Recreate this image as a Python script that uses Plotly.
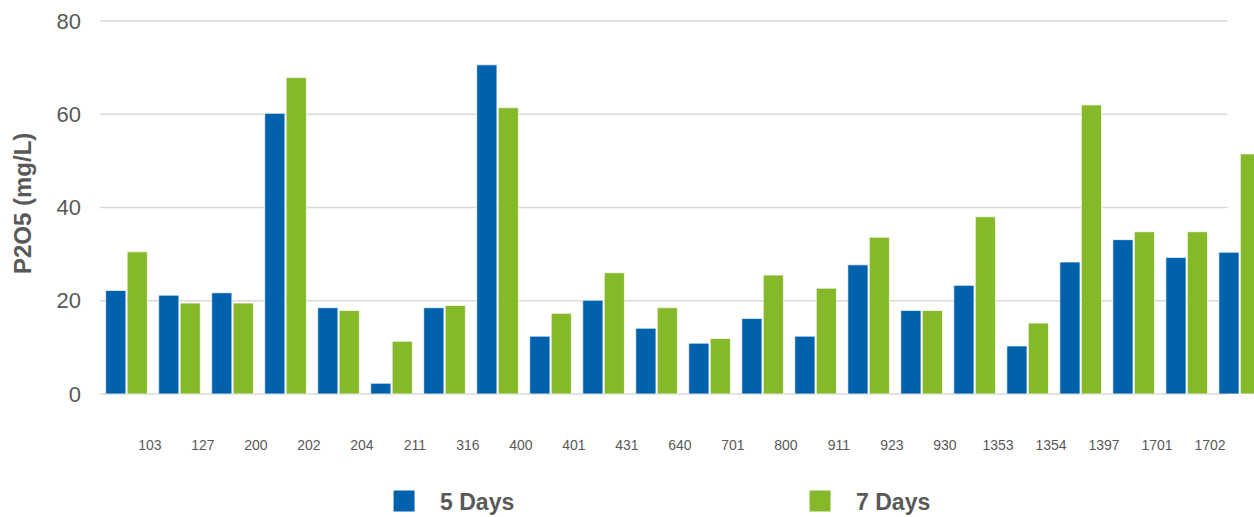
import plotly.graph_objects as go

categories = ["103", "127", "200", "202", "204", "211", "316", "400", "401", "431", "640",
              "701", "800", "911", "923", "930", "1353", "1354", "1397", "1701", "1702"]
days5 = [22.2, 21.2, 21.7, 60.2, 18.5, 2.3, 18.5, 70.6, 12.4, 20.1, 14.1,
         10.9, 16.2, 12.4, 27.7, 17.9, 23.3, 10.3, 28.3, 33.1, 29.3, 30.4]
days7 = [30.5, 19.5, 19.5, 67.9, 17.9, 11.3, 19.0, 61.4, 17.3, 26.0, 18.5,
         11.9, 25.5, 22.7, 33.6, 17.9, 38.0, 15.2, 62.0, 34.8, 34.8, 51.5]
y_ticks = [0, 20, 40, 60, 80]
series_names = ["5 Days", "7 Days"]
colors = ["#0061AD", "#86B92A"]

x_pos = list(range(len(days5)))
tick_pos = [i + 0.44 for i in range(len(categories))]

TXT = "#595959"
FONT = "Liberation Sans, Arial, sans-serif"

fig = go.Figure()
for name, vals, col in zip(series_names, [days5, days7], colors):
    fig.add_trace(go.Bar(
        x=x_pos, y=vals, name=name, showlegend=False,
        marker=dict(color=col, line=dict(color="rgba(255,255,255,0.7)", width=1)),
    ))
# legend proxies
for name, col in zip(series_names, colors):
    fig.add_trace(go.Scatter(
        x=[None], y=[None], mode="markers", name=name,
        marker=dict(symbol="square", size=16, color=col, line=dict(color=col, width=5)),
    ))

# gridlines drawn as shapes (end before the right edge as in the reference)
for v in y_ticks:
    fig.add_shape(type="line", xref="paper", yref="y", x0=0, x1=0.977, y0=v, y1=v,
                  line=dict(color="#D9D9D9", width=1.5), layer="below")

fig.update_layout(
    width=1254, height=517,
    margin=dict(l=100, r=0, t=10, b=97),
    paper_bgcolor="white", plot_bgcolor="white",
    barmode="group", bargap=0.19, bargroupgap=0.06,
    font=dict(family=FONT, color=TXT),
    showlegend=True,
    legend=dict(orientation="h", xref="container", yref="container",
                x=0.2935, xanchor="left", y=0.0309, yanchor="middle",
                font=dict(size=23, color=TXT, family=FONT, weight="bold"),
                entrywidth=339, entrywidthmode="pixels", itemsizing="trace",
                itemwidth=62, bgcolor="rgba(0,0,0,0)"),
    xaxis=dict(range=[-0.5, 21.27], tickmode="array", tickvals=tick_pos, ticktext=categories,
               showgrid=False, zeroline=False, showline=False, ticks="",
               tickfont=dict(size=14, color=TXT), ticklabelstandoff=15),
    yaxis=dict(range=[-5.58, 82.36], tickmode="array", tickvals=y_ticks,
               showgrid=False, zeroline=False, showline=False, ticks="",
               tickfont=dict(size=22, color=TXT), ticklabelstandoff=18),
    annotations=[dict(text="<b>P2O5 (mg/L)</b>", xref="paper", yref="paper",
                      x=(22 - 100) / 1154, y=(420 - 204) / 410, xanchor="center", yanchor="middle",
                      textangle=-90, showarrow=False,
                      font=dict(size=24, color=TXT, family=FONT))],
)

fig.write_html("out.html", config={"displayModeBar": False},
               post_script="document.body.style.margin='0';document.body.style.overflow='hidden';")
